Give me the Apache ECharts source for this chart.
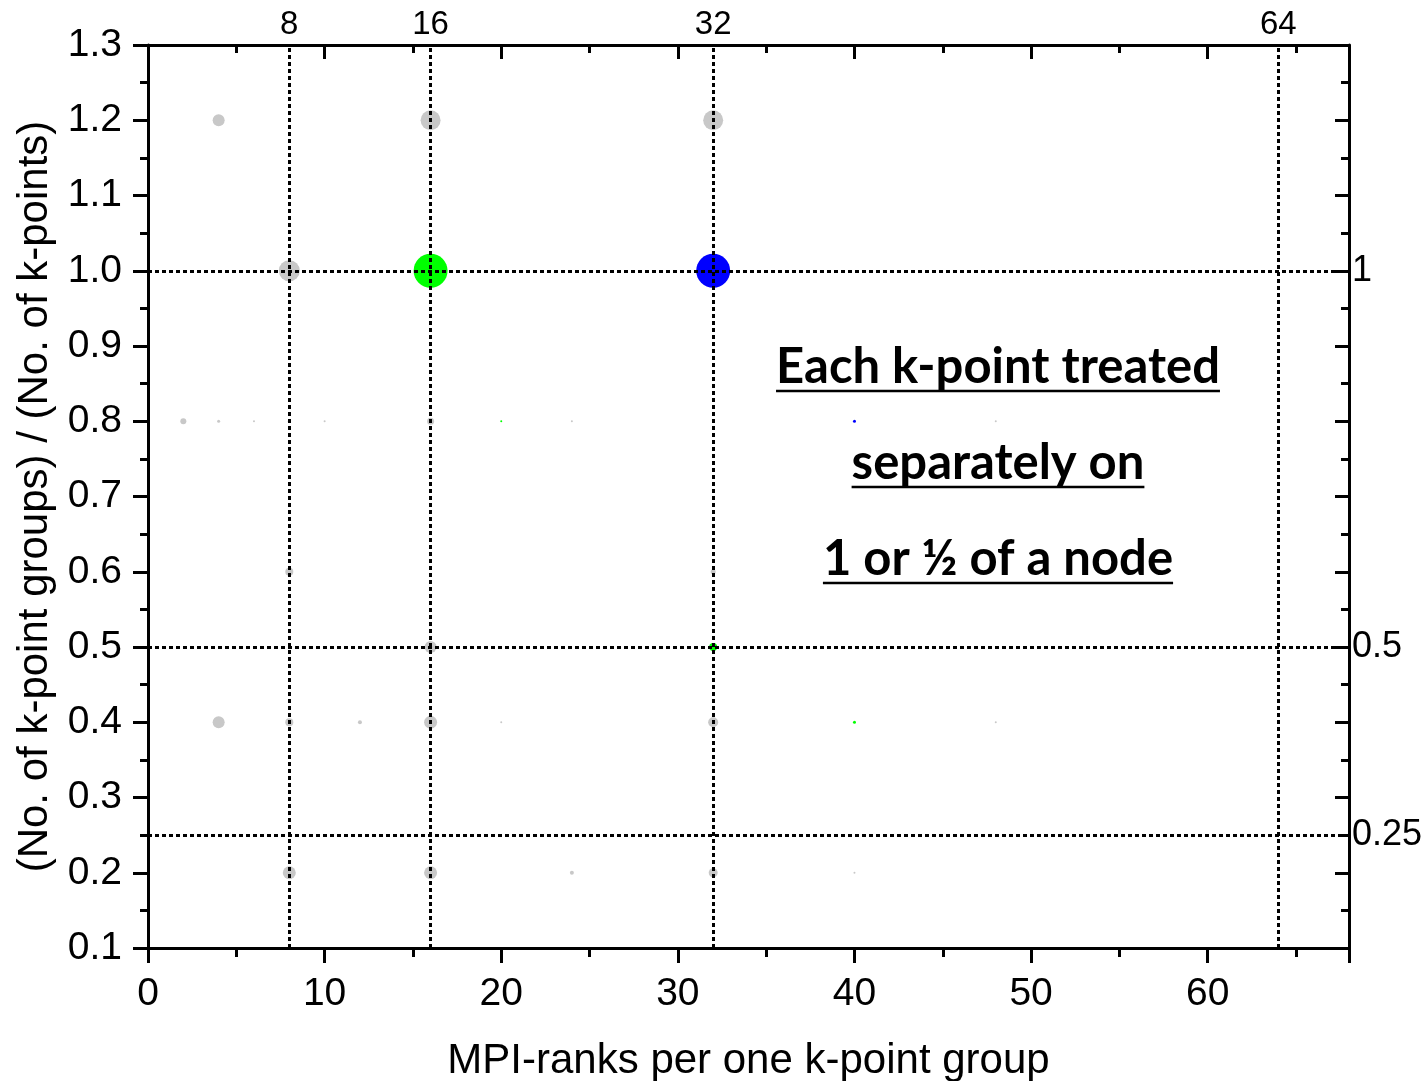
<!doctype html>
<html>
<head>
<meta charset="UTF-8">
<title>k-point groups</title>
<script src="https://cdn.jsdelivr.net/npm/echarts@6/dist/echarts.min.js"></script>
<style>
  html, body { margin: 0; padding: 0; background: #fff; }
  #main { width: 1428px; height: 1081px; }
</style>
</head>
<body>
<div id="main"></div>
<script>
// [ranks per group, groups/kpoints ratio, marker diameter]
var greyPts = [
  [4, 1.2, 12], [16, 1.2, 20], [32, 1.2, 20],
  [8, 1.0, 21],
  [2, 0.8, 6], [4, 0.8, 3], [6, 0.8, 2], [8, 0.8, 3], [10, 0.8, 2], [16, 0.8, 7], [24, 0.8, 2], [48, 0.8, 2],
  [8, 0.6, 8], [32, 0.6, 5],
  [16, 0.5, 12],
  [4, 0.4, 12], [8, 0.4, 8], [12, 0.4, 4], [16, 0.4, 13], [20, 0.4, 2], [32, 0.4, 10], [48, 0.4, 2],
  [8, 0.2, 13], [16, 0.2, 13], [24, 0.2, 4], [32, 0.2, 9], [40, 0.2, 2]
];
var greenPts = [[16, 1.0, 34], [32, 0.5, 8], [20, 0.8, 2], [40, 0.4, 3]];
var bluePts = [[32, 1.0, 34], [40, 0.8, 3]];

var vLines = [8, 16, 32, 64];
var hLines = [1, 0.5, 0.25];
var rightLabels = [0.25, 0.5, 1];
var noteLines = ['Each k-point treated', 'separately on', '1 or \u00bd of a node'];

var FONT = 'Liberation Sans, Arial, sans-serif';
var chart = echarts.init(document.getElementById('main'));

var dotLine = { color: '#000', width: 3, type: [4, 3] };
var markData = [];
vLines.forEach(function (v) { markData.push({ xAxis: v }); });
hLines.forEach(function (v) { markData.push({ yAxis: v }); });

// note text with underline
var ctx = document.createElement('canvas').getContext('2d');
var noteFont = 'bold 49px Lato';
ctx.font = noteFont;
var noteCx = 998, noteBase = [385, 481, 577];
var graphics = [];
noteLines.forEach(function (t, i) {
  var w = ctx.measureText(t).width;
  graphics.push({
    type: 'text', left: noteCx - w / 2, top: noteBase[i] - 42, z: 10,
    style: { text: t, font: noteFont, fill: '#000' }
  });
  graphics.push({
    type: 'line', z: 10,
    shape: { x1: noteCx - w / 2, y1: noteBase[i] + 6, x2: noteCx + w / 2, y2: noteBase[i] + 6 },
    style: { stroke: '#000', lineWidth: 2.5 }
  });
});

function scat(data, color, z) {
  return {
    type: 'scatter', data: data, z: z,
    symbol: 'circle',
    symbolSize: function (d) { return d[2]; },
    itemStyle: { color: color, opacity: 1 },
    silent: true
  };
}

var s0 = scat(greyPts, '#c8c8c8', 2);
s0.markLine = {
  silent: true, symbol: 'none', z: 5,
  label: { show: false },
  lineStyle: dotLine,
  data: markData
};

var tickStyle = { color: '#000', width: 3 };

chart.setOption({
  animation: false,
  backgroundColor: '#fff',
  grid: { left: 148, right: 79, top: 45, bottom: 133, outerBoundsMode: 'none', containLabel: false },
  xAxis: [{
    type: 'value', min: 0, max: 68, interval: 10,
    name: 'MPI-ranks per one k-point group', nameLocation: 'middle', nameGap: 92,
    nameTextStyle: { fontFamily: FONT, fontSize: 42, color: '#000' },
    axisLine: { onZero: false, lineStyle: tickStyle },
    axisTick: { length: 15, lineStyle: tickStyle },
    minorTick: { show: true, splitNumber: 2, length: 9, lineStyle: tickStyle },
    axisLabel: { fontFamily: FONT, fontSize: 39, color: '#000', margin: 27, showMaxLabel: false,
      formatter: function (v) { return v % 10 === 0 ? v : ''; } },
    splitLine: { show: false }
  }, {
    type: 'value', position: 'top', min: 0, max: 68, interval: 10,
    axisLine: { onZero: false, lineStyle: tickStyle },
    axisTick: { inside: true, length: 14, lineStyle: tickStyle },
    minorTick: { show: true, splitNumber: 2, length: 8, lineStyle: tickStyle },
    axisLabel: { customValues: vLines, fontFamily: FONT, fontSize: 33, color: '#000', margin: 4 },
    splitLine: { show: false }
  }],
  yAxis: [{
    type: 'value', min: 0.1, max: 1.3, interval: 0.1,
    name: '(No. of k-point groups) / (No. of k-points)', nameLocation: 'middle', nameGap: 85,
    nameTextStyle: { fontFamily: FONT, fontSize: 42, color: '#000' },
    axisLine: { onZero: false, lineStyle: tickStyle },
    axisTick: { length: 15, lineStyle: tickStyle },
    minorTick: { show: true, splitNumber: 2, length: 8, lineStyle: tickStyle },
    axisLabel: { fontFamily: FONT, fontSize: 39, color: '#000', margin: 26,
      formatter: function (v) { return v.toFixed(1); } },
    splitLine: { show: false }
  }, {
    type: 'value', position: 'right', min: 0.1, max: 1.3, interval: 0.1,
    axisLine: { onZero: false, lineStyle: tickStyle },
    axisTick: { inside: true, length: 14, lineStyle: tickStyle },
    minorTick: { show: true, splitNumber: 2, length: 8, lineStyle: tickStyle },
    axisLabel: { customValues: rightLabels, fontFamily: FONT, fontSize: 36, color: '#000', margin: 3,
      formatter: function (v) { return String(v); } },
    splitLine: { show: false }
  }],
  graphic: graphics,
  series: [s0, scat(greenPts, '#00ff00', 3), scat(bluePts, '#0000ff', 3)]
});
</script>
</body>
</html>
